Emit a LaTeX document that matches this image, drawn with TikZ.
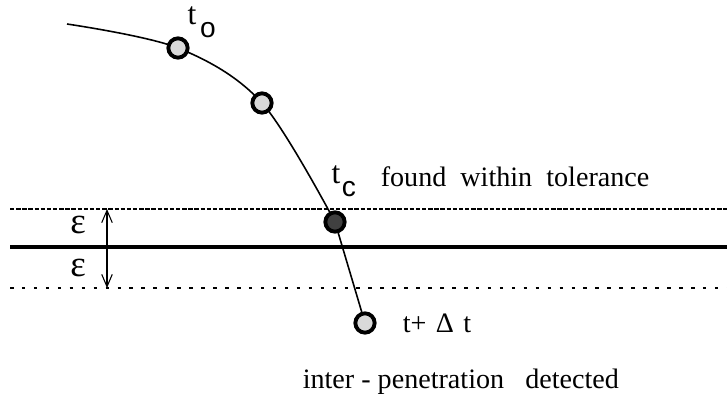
\documentclass[tikz,border=0pt]{standalone}
\usepackage{fontspec}
\setmainfont{Liberation Serif}
\setsansfont{Liberation Sans}
\usepackage{xcolor}
\colorlet{dotfill}{black!15}
\usepackage{tikz}
\usetikzlibrary{arrows.meta}
\tikzset{
  dot/.style={circle, draw=black, line width=2.2pt, fill=dotfill, minimum size=11pt, inner sep=0pt},
  lbl/.style={inner sep=0pt, font=\fontsize{16}{19}\selectfont},
  sub/.style={inner sep=0pt, font=\sffamily\fontsize{16}{19}\selectfont}
}
\begin{document}
\begin{tikzpicture}[x=0.02cm, y=-0.02cm, line width=0.9pt]
      \useasboundingbox (0,0) rectangle (727,406);
      % tolerance band
      \coordinate (up0) at (10,209);
      \coordinate (up1) at (727,209);
      \coordinate (mid0) at (10,247);
      \coordinate (mid1) at (727,247);
      \coordinate (lo0) at (10,288);
      \coordinate (lo1) at (727,288);
      \draw[dash pattern=on 2.5pt off 1pt, line width=0.6pt] (up0) -- (up1);
      \draw[line width=2.2pt] (mid0) -- (mid1);
      \draw[dash pattern=on 2pt off 4.8pt, line width=0.8pt] (lo0) -- (lo1);
      \coordinate (ea) at (107,209);
      \coordinate (eb) at (107,288);
      \draw[{Straight Barb[length=7pt,width=6pt]}-{Straight Barb[length=7pt,width=6pt]}, line width=0.6pt] (ea) -- (eb);
      \node[lbl, font=\fontsize{21}{24}\selectfont] (eps1) at (78,225) {ε};
      \node[lbl, font=\fontsize{21}{24}\selectfont] (eps2) at (78,268) {ε};
      % trajectory
      \coordinate (s) at (67,24);
      \coordinate (p0) at (178,48);
      \coordinate (p1) at (262,103);
      \coordinate (pc) at (335,222);
      \coordinate (pd) at (365,323);
      \draw plot[smooth, tension=0.55] coordinates {(s) (p0) (p1) (pc)} -- (pd);
      \node[dot] (d0) at (p0) {};
      \node[dot] (d1) at (p1) {};
      \node[dot, fill=black!75] (dc) at (pc) {};
      \node[dot] (dd) at (pd) {};
      % labels
      \node[lbl, font=\fontsize{18}{21}\selectfont] (t0) at (192,16) {t};
      \node[sub] (o) at (208,30) {o};
      \node[lbl, font=\fontsize{18}{21}\selectfont] (tc) at (336,175) {t};
      \node[sub] (c) at (349,189) {c};
      \node[lbl, anchor=west] (found) at (380,177) {found\ \ within\ \ tolerance};
      \node[lbl, anchor=west] (tdt) at (402,323) {t+\,\,Δ\,\,t};
      \node[lbl, anchor=west] (inter) at (302,382) {inter\ - penetration\ \ \ detected};
\end{tikzpicture}
\end{document}
